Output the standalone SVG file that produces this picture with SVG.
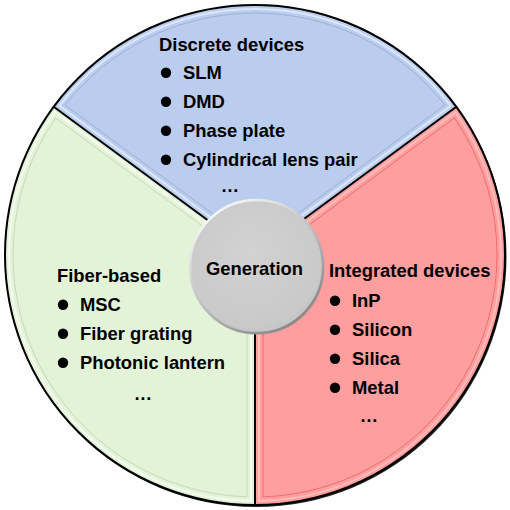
<svg xmlns="http://www.w3.org/2000/svg" width="510" height="510" viewBox="0 0 510 510">
<defs>
<style>
text{font-family:"Liberation Sans",Arial,sans-serif;font-weight:bold;font-size:18.4px;fill:#000}
.bul{fill:#000}
.edge{fill:none;stroke:#000;stroke-width:2}
</style>
<radialGradient id="cg" cx="0.45" cy="0.4" r="0.65">
<stop offset="0" stop-color="#d2d2d2"/>
<stop offset="0.85" stop-color="#c9c9c9"/>
<stop offset="1" stop-color="#c0c0c0"/>
</radialGradient>
<linearGradient id="cs" x1="0.2" y1="0.1" x2="0.8" y2="0.95">
<stop offset="0" stop-color="#f4f4f4"/>
<stop offset="0.5" stop-color="#bcbcbc"/>
<stop offset="1" stop-color="#858585"/>
</linearGradient>
</defs>
<rect width="510" height="510" fill="#fff"/>
<circle cx="256" cy="256.5" r="250.5" fill="#222"/>
<g id="discrete">
<path d="M255,255 L54,107 A250,250 0 0,1 456,107 Z" fill="#bacdef"/>
<path d="M255,250 L59.37,105.78 A246,246 0 0,1 450.63,105.78 Z" fill="none" stroke="#dce7fb" stroke-width="2"/>
<path d="M255,245 L65.07,105.03 A242,242 0 0,1 444.93,105.03 Z" fill="none" stroke="#9db1d6" stroke-width="1"/>
<text x="159" y="51">Discrete devices</text>
<circle class="bul" cx="166" cy="72.7" r="5.2"/><text x="183" y="79">SLM</text>
<circle class="bul" cx="166" cy="101.7" r="5.2"/><text x="183" y="108">DMD</text>
<circle class="bul" cx="166" cy="130.7" r="5.2"/><text x="183" y="137">Phase plate</text>
<circle class="bul" cx="166" cy="159.7" r="5.2"/><text x="183" y="166">Cylindrical lens pair</text>
<text x="230" y="192" text-anchor="middle">…</text>
</g>
<g id="integrated">
<path d="M255,255 L456,107 A250,250 0 0,1 255,505 Z" fill="#ff9e9e"/>
<path d="M259,257 L455.37,112.24 A246,246 0 0,1 259,500.97 Z" fill="none" stroke="#ffbcbc" stroke-width="2"/>
<path d="M263,259 L454.43,117.91 A242,242 0 0,1 263,496.87 Z" fill="none" stroke="#ee6f6f" stroke-width="1"/>
<text x="329" y="277">Integrated devices</text>
<circle class="bul" cx="335" cy="300.7" r="5.2"/><text x="352" y="307">InP</text>
<circle class="bul" cx="335" cy="329.7" r="5.2"/><text x="352" y="336">Silicon</text>
<circle class="bul" cx="335" cy="358.7" r="5.2"/><text x="352" y="365">Silica</text>
<circle class="bul" cx="335" cy="387.7" r="5.2"/><text x="352" y="394">Metal</text>
<text x="369" y="422" text-anchor="middle">…</text>
</g>
<g id="fiber">
<path d="M255,255 L255,505 A250,250 0 0,1 54,107 Z" fill="#e3f3d8"/>
<path d="M251,257 L251,500.97 A246,246 0 0,1 54.63,112.24 Z" fill="none" stroke="#f4fbef" stroke-width="2"/>
<path d="M247,259 L247,496.87 A242,242 0 0,1 55.57,117.91 Z" fill="none" stroke="#c6dab6" stroke-width="1"/>
<text x="57" y="281.5">Fiber-based</text>
<circle class="bul" cx="63" cy="304.7" r="5.2"/><text x="80" y="311">MSC</text>
<circle class="bul" cx="63" cy="333.7" r="5.2"/><text x="80" y="340">Fiber grating</text>
<circle class="bul" cx="63" cy="362.7" r="5.2"/><text x="80" y="369">Photonic lantern</text>
<text x="143" y="400" text-anchor="middle">…</text>
</g>
<g id="borders">
<circle class="edge" cx="255" cy="255" r="250" stroke-width="1.5"/>
<path class="edge" d="M255,255 L54,107 M255,255 L456,107 M255,255 L255,505"/>
</g>
<g id="generation">
<circle cx="257.5" cy="268" r="67" fill="#8a8a8a" opacity="0.35"/>
<circle cx="256.5" cy="266.5" r="66.5" fill="url(#cg)" stroke="url(#cs)" stroke-width="2.5"/>
<text x="254.5" y="275" text-anchor="middle">Generation</text>
</g>
</svg>
